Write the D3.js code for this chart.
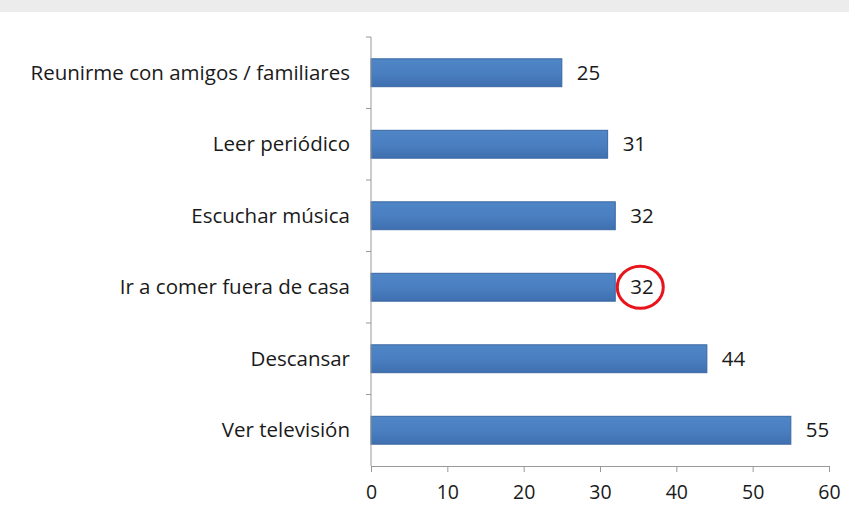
<!DOCTYPE html>
<html lang="es">
<head>
    <meta charset="UTF-8">
    <title>Actividades</title>
    <script src="https://cdn.jsdelivr.net/npm/d3@7/dist/d3.min.js"></script>
    <style>
        body { margin: 0; background: #fff; }
        text { font-family: "Open Sans", "Noto Sans", sans-serif; fill: #1a1a1a; }
    </style>
</head>
<body>
<div class="chart"></div>
<script>
    const categories = ['Reunirme con amigos / familiares', 'Leer periódico', 'Escuchar música',
        'Ir a comer fuera de casa', 'Descansar', 'Ver televisión']
    const values = [25, 31, 32, 32, 44, 55]
    const ticks = [0, 10, 20, 30, 40, 50, 60]
    const highlighted = 'Ir a comer fuera de casa'

    const width = 849
    const height = 509
    const fontSize = '20.5px'
    const svg = d3.select('.chart').append('svg')
        .attr('width', width)
        .attr('height', height)

    // faint grey band at the very top of the scan
    svg.append('rect')
        .attr('x', 0).attr('y', 0)
        .attr('width', width).attr('height', 12)
        .attr('fill', '#ececec')

    const x = d3.scaleLinear().domain([0, 60]).range([371, 829])
    const y = d3.scaleBand().domain(categories).range([37, 466]).paddingInner(0.61).paddingOuter(0.305)

    const grad = svg.append('defs').append('linearGradient')
        .attr('id', 'barfill').attr('x1', 0).attr('y1', 0).attr('x2', 0).attr('y2', 1)
    grad.append('stop').attr('offset', '0%').attr('stop-color', '#4f86c6')
    grad.append('stop').attr('offset', '50%').attr('stop-color', '#4a7fc1')
    grad.append('stop').attr('offset', '100%').attr('stop-color', '#3f70b0')

    svg.selectAll('.bar')
        .data(values)
        .enter().append('rect')
        .attr('class', 'bar')
        .attr('x', x(0))
        .attr('y', (d, i) => y(categories[i]))
        .attr('width', d => x(d) - x(0))
        .attr('height', y.bandwidth())
        .attr('fill', 'url(#barfill)')
        .attr('stroke', '#3a66a2')
        .attr('stroke-width', 1)

    svg.selectAll('.val')
        .data(values)
        .enter().append('text')
        .attr('class', 'val')
        .attr('x', d => x(d) + 15)
        .attr('y', (d, i) => y(categories[i]) + y.bandwidth() / 2)
        .attr('dy', '0.35em')
        .attr('font-size', fontSize)
        .text(d => d)

    // x axis
    const gx = svg.append('g')
        .attr('transform', `translate(0, 466)`)
        .call(d3.axisBottom(x).tickValues(ticks).tickSize(6).tickPadding(13).tickSizeOuter(0))
    gx.select('.domain').attr('stroke', '#999')
    gx.selectAll('.tick line').attr('stroke', '#999')
    gx.selectAll('.tick text').attr('font-size', '19.5px').attr('fill', '#1a1a1a')
        .style('font-family', '"Open Sans", sans-serif')

    // y axis: ticks sit on band boundaries
    const gy = svg.append('g').attr('transform', 'translate(371, 0)')
    gy.append('line')
        .attr('x1', 0).attr('x2', 0)
        .attr('y1', y.range()[0]).attr('y2', y.range()[1])
        .attr('stroke', '#999')
    gy.selectAll('.tk')
        .data(categories)
        .enter().append('line')
        .attr('x1', -5).attr('x2', 0)
        .attr('y1', d => y(d) - y.step() * y.paddingInner() / 2)
        .attr('y2', d => y(d) - y.step() * y.paddingInner() / 2)
        .attr('stroke', '#999')
    gy.selectAll('.lbl')
        .data(categories)
        .enter().append('text')
        .attr('x', -21)
        .attr('y', d => y(d) + y.bandwidth() / 2)
        .attr('dy', '0.35em')
        .attr('text-anchor', 'end')
        .attr('font-size', fontSize)
        .text(d => d)

    // red circle around the highlighted value
    const hi = categories.indexOf(highlighted)
    svg.append('ellipse')
        .attr('cx', x(values[hi]) + 25)
        .attr('cy', y(highlighted) + y.bandwidth() / 2)
        .attr('rx', 23)
        .attr('ry', 21)
        .attr('fill', 'none')
        .attr('stroke', '#e8141c')
        .attr('stroke-width', 3)
</script>
</body>
</html>
